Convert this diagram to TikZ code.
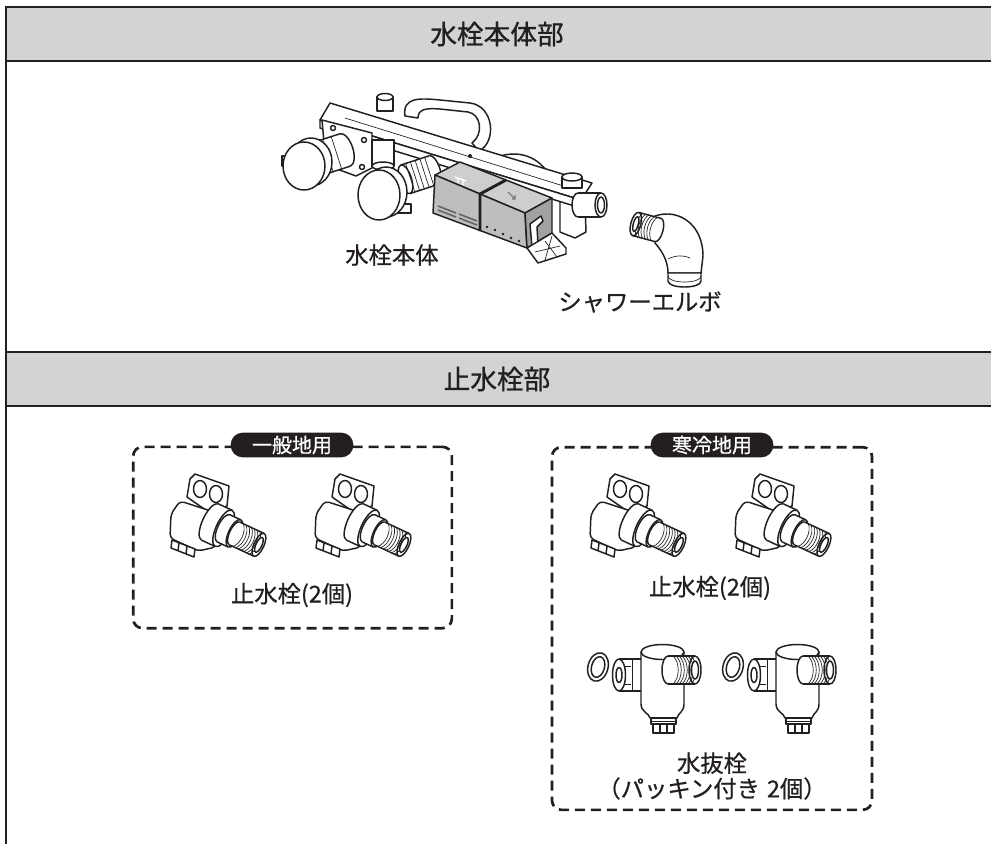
\documentclass[tikz,border=0pt]{standalone}
\usepackage{fontspec}
\setmainfont{Noto Sans CJK JP}
\newfontfamily\headfont[FakeBold=0.9]{Noto Sans CJK JP}
\newfontfamily\labelfont[FakeBold=0.7]{Noto Sans CJK JP}
\usetikzlibrary{positioning}
\definecolor{framedark}{HTML}{231F20}
\definecolor{headergray}{HTML}{D1D3D4}
\definecolor{cartridgegray}{HTML}{BCBEC0}
\newcommand{\pipeseg}[4]{%
  \filldraw[part] (#1,0) ellipse ({#4} and {#3});
  \fill[white] (#1,-#3) rectangle (#2,#3);
  \draw[part] (#1,-#3) -- (#2,-#3) (#1,#3) -- (#2,#3);
  \filldraw[part] (#2,0) ellipse ({#4} and {#3});}

\begin{document}
\begin{tikzpicture}[x=0.75pt, y=-0.75pt,
  part/.style={draw=framedark, fill=white, line width=1.1pt, line join=round},
  thread/.style={draw=framedark, line width=0.5pt},
  frameline/.style={draw=framedark, line width=2.2pt},
  headtext/.style={text=framedark, font=\headfont\fontsize{20}{24}\selectfont},
  areabox/.style={draw=framedark, line width=2pt, dash pattern=on 7.5pt off 4.5pt, rounded corners=7pt, inner sep=0pt},
  tag/.style={fill=framedark, text=white, rounded corners=9pt, minimum width=92pt, minimum height=18.5pt, inner sep=0pt, font=\labelfont\fontsize{15}{17}\selectfont},
  partlabel/.style={text=framedark, font=\labelfont\fontsize{17.5}{19}\selectfont, align=center, inner sep=1pt},
  stopvalve/.pic={
    \filldraw[part] (27,37) -- (30,19) -- (35,14) -- (69,26) -- (67,46) -- (50,53) -- cycle;
    \draw[part] (40,29) ellipse (6.5 and 8.5);
    \draw[part] (56,34) ellipse (6.5 and 8.5);
    \filldraw[part, rounded corners=3pt] (11,54) -- (20,41) -- (54,52) -- (56,87) -- (38,91) -- (10,78) -- cycle;
    \filldraw[part] (12,80) -- (35,89) -- (34,97) -- (11,88) -- cycle;
    \draw[part] (19,83) -- (18,91) (27,86) -- (26,94);
    \begin{scope}[shift={(50,62)}, rotate=-25]
      \pipeseg{0}{15}{20}{7.5}
      \pipeseg{15}{27}{15}{6}
      \pipeseg{27}{54}{12.5}{5}
      \foreach \t in {31,34,...,51} \draw[thread] (\t,-12.5) .. controls (\t+6,-7) and (\t+6,7) .. (\t,12.5);
      \draw[part] (54,0) ellipse (3 and 8);
    \end{scope}
  },
  drainvalve/.pic={
    \draw[part, rotate around={-15:(18,37)}] (18,37) ellipse (10 and 14.5);
    \draw[part, rotate around={-15:(18,37)}] (18,37) ellipse (6.5 and 10.5);
    \begin{scope}[shift={(64,45)}]
      \pipeseg{0}{-25}{16}{6.5}
      \draw[part] (-25,0) ellipse (3 and 7.5);
      \draw[thread] (-12,-16) -- (-12,16) (-20,-9) -- (-13,-9) (-20,9) -- (-13,9);
    \end{scope}
    \filldraw[part] (61,22) -- (61,74) .. controls (61,82) and (69,83) .. (70,88) -- (97,88) .. controls (98,83) and (104,82) .. (104,74) -- (104,22) -- cycle;
    \filldraw[part] (82.5,22) ellipse (21.5 and 7.5);
    \filldraw[part] (71,88) rectangle (96,94);
    \draw[thread] (71,91) -- (96,91);
    \filldraw[part] (73,94) rectangle (94,103);
    \draw[part] (80,94) -- (80,103) (87,94) -- (87,103);
    \begin{scope}[shift={(88,40)}]
      \pipeseg{0}{27}{14}{6}
      \foreach \t in {5,8,...,24} \draw[thread] (\t,-14) .. controls (\t+7,-8) and (\t+7,8) .. (\t,14);
      \draw[part] (27,0) ellipse (3.5 and 9);
    \end{scope}
  }]
  \useasboundingbox (0,0) rectangle (991,843);
  \clip (0,0) rectangle (991,843);

  \fill[headergray] (6,7) rectangle (1000,61);
  \fill[headergray] (6,352) rectangle (1000,406);
  \draw[frameline] (1000,7) -- (6,7) -- (6,850);
  \draw[frameline] (6,61) -- (1000,61);
  \draw[frameline] (6,352) -- (1000,352);
  \draw[frameline] (6,406) -- (1000,406);
  \node[headtext] (bodyhead) at (497,34) {水栓本体部};
  \node[headtext] (stophead) at (497,379) {止水栓部};

  \filldraw[part] (405,116) .. controls (402,97) and (420,98) .. (440,100) -- (470,103) .. controls (494,106) and (497,142) .. (479,151) -- (472,143) .. controls (484,134) and (481,114) .. (468,112) -- (440,109) .. controls (426,108) and (418,109) .. (418,118) -- cycle;
  \filldraw[part] (490,160) .. controls (510,150) and (532,152) .. (546,170) -- (540,176) .. controls (528,163) and (510,162) .. (495,168) -- cycle;
  \filldraw[part] (560,195) -- (585,203) -- (586,232) -- (575,238) -- (560,232) -- cycle;
  \filldraw[part] (330,103) -- (592,183) -- (581,200) -- (320,120) -- cycle;
  \filldraw[part] (320,120) -- (581,200) -- (581,208) -- (320,128) -- cycle;
  \draw[thread] (345,118) -- (570,188);
  \fill[framedark] (470,156) circle (2);
  \filldraw[part] (377,97) rectangle (393,111);
  \filldraw[part] (385,97) ellipse (8 and 3.5);
  \filldraw[part] (562,177) rectangle (582,188);
  \filldraw[part] (572,177) ellipse (10 and 4);
  \begin{scope}[shift={(578,205)}]
    \pipeseg{0}{23}{12}{6}
    \draw[part] (23,0) ellipse (3.5 and 8);
  \end{scope}
  \filldraw[part] (322,120) -- (372,133) -- (372,168) -- (356,176) -- (326,165) -- cycle;
  \foreach \h in {(333,128),(364,140),(333,158),(362,167)} \draw[part] \h circle (2.5);
  \filldraw[part] (372,140) rectangle (394,166);
  \filldraw[part] (383,166) ellipse (11 and 4);
  \begin{scope}[shift={(345,150)}, rotate=18]
    \pipeseg{0}{-26}{17}{8}
    \draw[thread] (-9,-17) -- (-9,17) (-18,-17) -- (-18,17);
  \end{scope}
  \filldraw[part] (282,156) rectangle (289,166);
  \filldraw[part] (311,162) ellipse (21 and 24);
  \filldraw[part] (304,166) ellipse (21 and 24);
  \begin{scope}[shift={(434,170)}, rotate=18]
    \pipeseg{0}{-30}{15}{6}
    \foreach \t in {-5,-10,...,-25} \draw[thread] (\t,-15) -- (\t,15);
  \end{scope}
  \filldraw[part] (394,204) rectangle (411,213);
  \filldraw[part] (386,192) ellipse (21 and 25);
  \filldraw[part] (379,195) ellipse (21 and 25);

  \filldraw[part, fill=cartridgegray!75] (435,175) -- (460,162) -- (552,198) -- (525,213) -- cycle;
  \filldraw[part, fill=cartridgegray] (435,175) -- (525,213) -- (527,248) -- (433,213) -- cycle;
  \filldraw[part, fill=cartridgegray!85!black] (525,213) -- (552,198) -- (552,233) -- (527,248) -- cycle;
  \draw[framedark, line width=2.2pt] (506,180) -- (480,194) -- (480,231);
  \draw[white, line width=1pt] (455,177) -- (466,181) (458,178) -- (458,183) (463,180) -- (463,185);
  \draw[framedark!60, line width=1pt] (508,192) -- (515,199) (512,199) -- (515,199) -- (515,195);
  \draw[framedark!70, line width=1.2pt] (438,206) -- (456,213) (438,210) -- (456,217) (459,214) -- (477,221) (459,218) -- (477,225);
  \foreach \d in {(487,227),(495,230),(503,234),(511,238),(519,241)} \fill[framedark] \d circle (1.3);
  \filldraw[part] (530,224) -- (541,216) -- (543,221) -- (537,227) -- (538,245) -- (532,247) -- cycle;
  \filldraw[part] (527,248) -- (552,233) -- (566,248) -- (566,254) -- (538,263) -- cycle;
  \draw[thread] (545,241) -- (557,257) (552,236) -- (545,260) (535,252) -- (560,246);

  \filldraw[part] (655,216) .. controls (678,208) and (703,224) .. (703,256) -- (701,273) -- (668,273) .. controls (668,262) and (663,252) .. (655,243) -- cycle;
  \draw[thread] (668,259) .. controls (676,255) and (684,255) .. (690,258);
  \filldraw[part] (668,273) -- (668,281) .. controls (668,289) and (701,289) .. (701,281) -- (701,273) -- cycle;
  \draw[thread] (668,276) .. controls (668,284) and (701,284) .. (701,276);
  \begin{scope}[shift={(658,230)}, rotate=-15]
    \pipeseg{0}{-23}{12}{5}
    \foreach \t in {-4,-7,...,-20} \draw[thread] (\t,-12) .. controls (\t-5,-6) and (\t-5,6) .. (\t,12);
    \draw[part] (-23,0) ellipse (2.5 and 7.5);
  \end{scope}

  \node[partlabel] (bodylabel) at (392,255) {水栓本体};
  \node[partlabel] (elbowlabel) at (640,302) {シャワーエルボ};

  \node[areabox, minimum width=239pt, minimum height=136pt] (generalarea) at (292.5,537.5) {};
  \node[areabox, minimum width=240pt, minimum height=272pt] (coldarea) at (712,628.5) {};
  \node[tag] (generaltag) at (292,445) {一般地用};
  \node[tag] (coldtag) at (712,445) {寒冷地用};

  \pic at (160,460) {stopvalve};
  \pic at (305,460) {stopvalve};
  \pic at (580,460) {stopvalve};
  \pic at (725,460) {stopvalve};
  \pic at (580,630) {drainvalve};
  \pic at (715,630) {drainvalve};

  \node[partlabel] (generalstop) at (292,595) {止水栓(2個)};
  \node[partlabel] (coldstop) at (710,588) {止水栓(2個)};
  \node[partlabel] (drainlabel) at (712,776) {水抜栓\\（パッキン付き\hspace{0.3em}2個）};
\end{tikzpicture}
\end{document}
